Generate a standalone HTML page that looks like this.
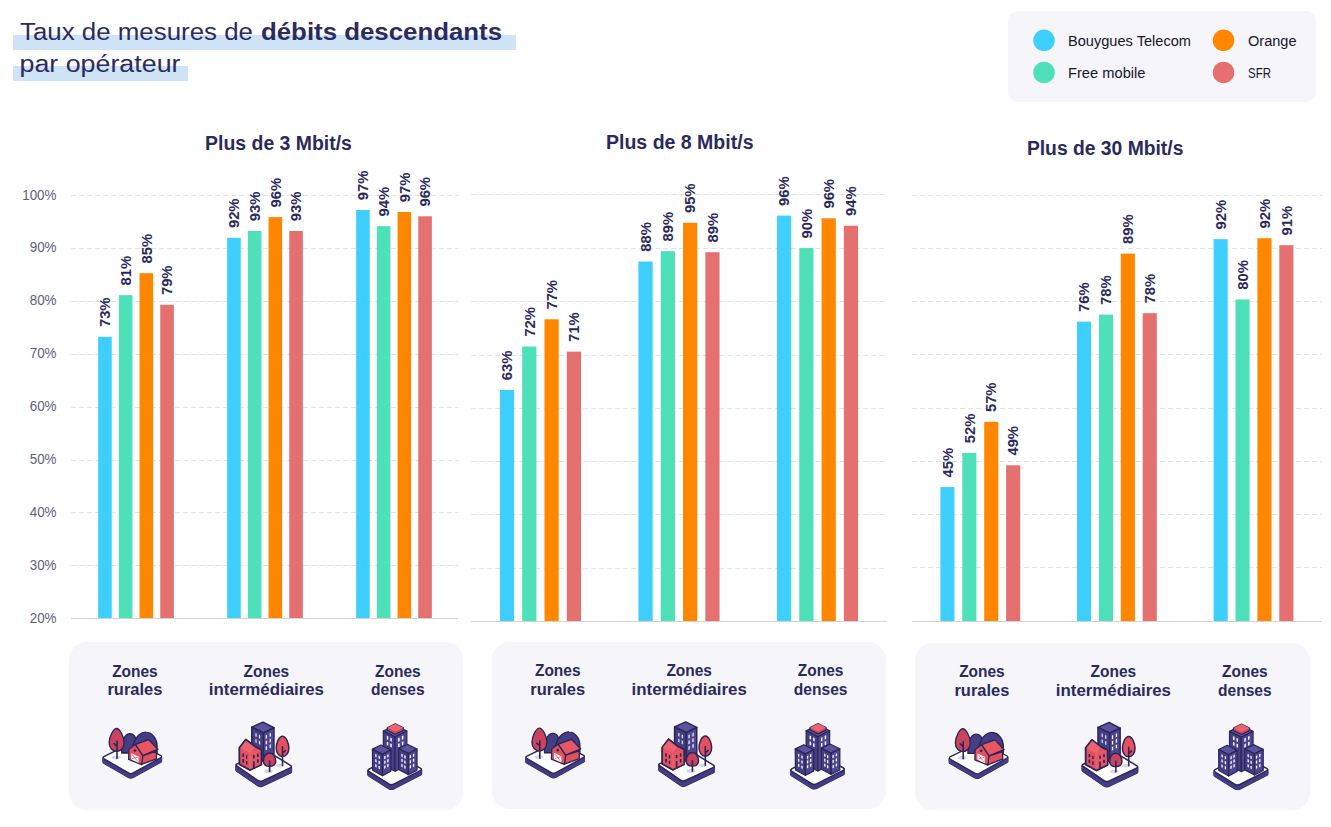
<!DOCTYPE html>
<html><head><meta charset="utf-8"><title>Taux de mesures de débits descendants par opérateur</title>
<style>
html,body{margin:0;padding:0;background:#fff;}
body{width:1331px;height:827px;overflow:hidden;position:relative;font-family:"Liberation Sans",sans-serif;}
.box{position:absolute;background:#f5f5fa;}
.band{position:absolute;background:#cfe3f6;}
svg.page{position:absolute;left:0;top:0;}
svg text{font-family:"Liberation Sans",sans-serif;}
.vl{font-size:14.8px;font-weight:bold;fill:#2a2a5c;}
.yl{font-size:15.5px;fill:#5e6079;}
.tt{font-size:24.7px;fill:#2b2b5e;}
.lg{font-size:14.7px;fill:#15152c;}
.zl{font-size:16.6px;font-weight:bold;fill:#2a2a5c;}
.ct{font-size:19.5px;font-weight:bold;fill:#2a2a5c;}
</style></head><body>
<div class="band" style="left:13px;top:35px;width:503px;height:15px"></div>
<div class="band" style="left:13px;top:66px;width:175px;height:15px"></div>
<div class="box" style="left:1008.4px;top:11px;width:307.8px;height:91px;border-radius:10px"></div>
<div class="box" style="left:69.2px;top:642.3px;width:394px;height:167.3px;border-radius:18px"></div>
<div class="box" style="left:492px;top:642px;width:394.1px;height:167.2px;border-radius:18px"></div>
<div class="box" style="left:915.4px;top:642.6px;width:394.5px;height:167.9px;border-radius:18px"></div>
<svg class="page" width="1331" height="827" viewBox="0 0 1331 827">
<line x1="71" y1="195.50" x2="458" y2="195.50" stroke="#e2e2e2" stroke-width="1" stroke-dasharray="5 3"/>
<line x1="71" y1="248.50" x2="458" y2="248.50" stroke="#e2e2e2" stroke-width="1" stroke-dasharray="5 3"/>
<line x1="71" y1="301.50" x2="458" y2="301.50" stroke="#e2e2e2" stroke-width="1" stroke-dasharray="5 3"/>
<line x1="71" y1="354.50" x2="458" y2="354.50" stroke="#e2e2e2" stroke-width="1" stroke-dasharray="5 3"/>
<line x1="71" y1="407.50" x2="458" y2="407.50" stroke="#e2e2e2" stroke-width="1" stroke-dasharray="5 3"/>
<line x1="71" y1="460.50" x2="458" y2="460.50" stroke="#e2e2e2" stroke-width="1" stroke-dasharray="5 3"/>
<line x1="71" y1="512.50" x2="458" y2="512.50" stroke="#e2e2e2" stroke-width="1" stroke-dasharray="5 3"/>
<line x1="71" y1="565.50" x2="458" y2="565.50" stroke="#e2e2e2" stroke-width="1" stroke-dasharray="5 3"/>
<rect x="98.15" y="336.80" width="13.6" height="281.60" fill="#3ecfff"/>
<text transform="translate(110.15,327.10) rotate(-90)" class="vl">73%</text>
<rect x="118.85" y="295.20" width="13.6" height="323.20" fill="#4de0b9"/>
<text transform="translate(130.85,285.50) rotate(-90)" class="vl">81%</text>
<rect x="139.55" y="273.20" width="13.6" height="345.20" fill="#ff8700"/>
<text transform="translate(151.55,263.50) rotate(-90)" class="vl">85%</text>
<rect x="160.25" y="304.80" width="13.6" height="313.60" fill="#e57070"/>
<text transform="translate(172.25,295.10) rotate(-90)" class="vl">79%</text>
<rect x="227.15" y="237.80" width="13.6" height="380.60" fill="#3ecfff"/>
<text transform="translate(239.15,228.10) rotate(-90)" class="vl">92%</text>
<rect x="247.85" y="231.00" width="13.6" height="387.40" fill="#4de0b9"/>
<text transform="translate(259.85,221.30) rotate(-90)" class="vl">93%</text>
<rect x="268.55" y="217.10" width="13.6" height="401.30" fill="#ff8700"/>
<text transform="translate(280.55,207.40) rotate(-90)" class="vl">96%</text>
<rect x="289.25" y="231.00" width="13.6" height="387.40" fill="#e57070"/>
<text transform="translate(301.25,221.30) rotate(-90)" class="vl">93%</text>
<rect x="356.15" y="210.00" width="13.6" height="408.40" fill="#3ecfff"/>
<text transform="translate(368.15,200.30) rotate(-90)" class="vl">97%</text>
<rect x="376.85" y="226.20" width="13.6" height="392.20" fill="#4de0b9"/>
<text transform="translate(388.85,216.50) rotate(-90)" class="vl">94%</text>
<rect x="397.55" y="212.00" width="13.6" height="406.40" fill="#ff8700"/>
<text transform="translate(409.55,202.30) rotate(-90)" class="vl">97%</text>
<rect x="418.25" y="216.30" width="13.6" height="402.10" fill="#e57070"/>
<text transform="translate(430.25,206.60) rotate(-90)" class="vl">96%</text>
<line x1="71" y1="618.5" x2="458" y2="618.5" stroke="#d3d3d3" stroke-width="1"/>
<line x1="471.2" y1="194.50" x2="886.8" y2="194.50" stroke="#e2e2e2" stroke-width="1" stroke-dasharray="5 3"/>
<line x1="471.2" y1="248.50" x2="886.8" y2="248.50" stroke="#e2e2e2" stroke-width="1" stroke-dasharray="5 3"/>
<line x1="471.2" y1="301.50" x2="886.8" y2="301.50" stroke="#e2e2e2" stroke-width="1" stroke-dasharray="5 3"/>
<line x1="471.2" y1="355.50" x2="886.8" y2="355.50" stroke="#e2e2e2" stroke-width="1" stroke-dasharray="5 3"/>
<line x1="471.2" y1="408.50" x2="886.8" y2="408.50" stroke="#e2e2e2" stroke-width="1" stroke-dasharray="5 3"/>
<line x1="471.2" y1="461.50" x2="886.8" y2="461.50" stroke="#e2e2e2" stroke-width="1" stroke-dasharray="5 3"/>
<line x1="471.2" y1="514.50" x2="886.8" y2="514.50" stroke="#e2e2e2" stroke-width="1" stroke-dasharray="5 3"/>
<line x1="471.2" y1="568.50" x2="886.8" y2="568.50" stroke="#e2e2e2" stroke-width="1" stroke-dasharray="5 3"/>
<rect x="499.92" y="390.00" width="14.2" height="231.50" fill="#3ecfff"/>
<text transform="translate(512.22,380.30) rotate(-90)" class="vl">63%</text>
<rect x="522.22" y="346.50" width="14.2" height="275.00" fill="#4de0b9"/>
<text transform="translate(534.52,336.80) rotate(-90)" class="vl">72%</text>
<rect x="544.52" y="319.30" width="14.2" height="302.20" fill="#ff8700"/>
<text transform="translate(556.82,309.60) rotate(-90)" class="vl">77%</text>
<rect x="566.82" y="351.60" width="14.2" height="269.90" fill="#e57070"/>
<text transform="translate(579.12,341.90) rotate(-90)" class="vl">71%</text>
<rect x="638.45" y="261.50" width="14.2" height="360.00" fill="#3ecfff"/>
<text transform="translate(650.75,251.80) rotate(-90)" class="vl">88%</text>
<rect x="660.75" y="251.20" width="14.2" height="370.30" fill="#4de0b9"/>
<text transform="translate(673.05,241.50) rotate(-90)" class="vl">89%</text>
<rect x="683.05" y="222.80" width="14.2" height="398.70" fill="#ff8700"/>
<text transform="translate(695.35,213.10) rotate(-90)" class="vl">95%</text>
<rect x="705.35" y="252.20" width="14.2" height="369.30" fill="#e57070"/>
<text transform="translate(717.65,242.50) rotate(-90)" class="vl">89%</text>
<rect x="776.98" y="215.60" width="14.2" height="405.90" fill="#3ecfff"/>
<text transform="translate(789.28,205.90) rotate(-90)" class="vl">96%</text>
<rect x="799.28" y="248.10" width="14.2" height="373.40" fill="#4de0b9"/>
<text transform="translate(811.58,238.40) rotate(-90)" class="vl">90%</text>
<rect x="821.58" y="218.30" width="14.2" height="403.20" fill="#ff8700"/>
<text transform="translate(833.88,208.60) rotate(-90)" class="vl">96%</text>
<rect x="843.88" y="225.70" width="14.2" height="395.80" fill="#e57070"/>
<text transform="translate(856.18,216.00) rotate(-90)" class="vl">94%</text>
<line x1="471.2" y1="621.5" x2="886.8" y2="621.5" stroke="#d3d3d3" stroke-width="1"/>
<line x1="912" y1="195.50" x2="1321.8" y2="195.50" stroke="#e2e2e2" stroke-width="1" stroke-dasharray="5 3"/>
<line x1="912" y1="248.50" x2="1321.8" y2="248.50" stroke="#e2e2e2" stroke-width="1" stroke-dasharray="5 3"/>
<line x1="912" y1="301.50" x2="1321.8" y2="301.50" stroke="#e2e2e2" stroke-width="1" stroke-dasharray="5 3"/>
<line x1="912" y1="354.50" x2="1321.8" y2="354.50" stroke="#e2e2e2" stroke-width="1" stroke-dasharray="5 3"/>
<line x1="912" y1="408.50" x2="1321.8" y2="408.50" stroke="#e2e2e2" stroke-width="1" stroke-dasharray="5 3"/>
<line x1="912" y1="461.50" x2="1321.8" y2="461.50" stroke="#e2e2e2" stroke-width="1" stroke-dasharray="5 3"/>
<line x1="912" y1="514.50" x2="1321.8" y2="514.50" stroke="#e2e2e2" stroke-width="1" stroke-dasharray="5 3"/>
<line x1="912" y1="567.50" x2="1321.8" y2="567.50" stroke="#e2e2e2" stroke-width="1" stroke-dasharray="5 3"/>
<rect x="940.40" y="487.10" width="14.1" height="134.40" fill="#3ecfff"/>
<text transform="translate(952.65,477.40) rotate(-90)" class="vl">45%</text>
<rect x="962.30" y="452.90" width="14.1" height="168.60" fill="#4de0b9"/>
<text transform="translate(974.55,443.20) rotate(-90)" class="vl">52%</text>
<rect x="984.20" y="421.80" width="14.1" height="199.70" fill="#ff8700"/>
<text transform="translate(996.45,412.10) rotate(-90)" class="vl">57%</text>
<rect x="1006.10" y="465.30" width="14.1" height="156.20" fill="#e57070"/>
<text transform="translate(1018.35,455.60) rotate(-90)" class="vl">49%</text>
<rect x="1077.00" y="321.60" width="14.1" height="299.90" fill="#3ecfff"/>
<text transform="translate(1089.25,311.90) rotate(-90)" class="vl">76%</text>
<rect x="1098.90" y="314.60" width="14.1" height="306.90" fill="#4de0b9"/>
<text transform="translate(1111.15,304.90) rotate(-90)" class="vl">78%</text>
<rect x="1120.80" y="253.60" width="14.1" height="367.90" fill="#ff8700"/>
<text transform="translate(1133.05,243.90) rotate(-90)" class="vl">89%</text>
<rect x="1142.70" y="313.20" width="14.1" height="308.30" fill="#e57070"/>
<text transform="translate(1154.95,303.50) rotate(-90)" class="vl">78%</text>
<rect x="1213.60" y="239.20" width="14.1" height="382.30" fill="#3ecfff"/>
<text transform="translate(1225.85,229.50) rotate(-90)" class="vl">92%</text>
<rect x="1235.50" y="299.50" width="14.1" height="322.00" fill="#4de0b9"/>
<text transform="translate(1247.75,289.80) rotate(-90)" class="vl">80%</text>
<rect x="1257.40" y="238.20" width="14.1" height="383.30" fill="#ff8700"/>
<text transform="translate(1269.65,228.50) rotate(-90)" class="vl">92%</text>
<rect x="1279.30" y="245.20" width="14.1" height="376.30" fill="#e57070"/>
<text transform="translate(1291.55,235.50) rotate(-90)" class="vl">91%</text>
<line x1="912" y1="621.5" x2="1321.8" y2="621.5" stroke="#d3d3d3" stroke-width="1"/>
<text x="22.20" y="199.50" class="yl" textLength="34.300000000000004" lengthAdjust="spacingAndGlyphs">100%</text>
<text x="29.70" y="252.39" class="yl" textLength="26.8" lengthAdjust="spacingAndGlyphs">90%</text>
<text x="29.70" y="305.27" class="yl" textLength="26.8" lengthAdjust="spacingAndGlyphs">80%</text>
<text x="29.70" y="358.16" class="yl" textLength="26.8" lengthAdjust="spacingAndGlyphs">70%</text>
<text x="29.70" y="411.05" class="yl" textLength="26.8" lengthAdjust="spacingAndGlyphs">60%</text>
<text x="29.70" y="463.94" class="yl" textLength="26.8" lengthAdjust="spacingAndGlyphs">50%</text>
<text x="29.70" y="516.82" class="yl" textLength="26.8" lengthAdjust="spacingAndGlyphs">40%</text>
<text x="29.70" y="569.71" class="yl" textLength="26.8" lengthAdjust="spacingAndGlyphs">30%</text>
<text x="29.70" y="622.60" class="yl" textLength="26.8" lengthAdjust="spacingAndGlyphs">20%</text>
<text x="205.1" y="150.3" class="ct" textLength="146.8" lengthAdjust="spacingAndGlyphs">Plus de 3 Mbit/s</text>
<text x="606.0" y="149.4" class="ct" textLength="147.5" lengthAdjust="spacingAndGlyphs">Plus de 8 Mbit/s</text>
<text x="1026.9" y="155" class="ct" textLength="156.5" lengthAdjust="spacingAndGlyphs">Plus de 30 Mbit/s</text>
<text x="20" y="40.2" class="tt" textLength="233" lengthAdjust="spacingAndGlyphs">Taux de mesures de</text>
<text x="261" y="40.2" class="tt" font-weight="bold" textLength="241" lengthAdjust="spacingAndGlyphs">débits descendants</text>
<text x="19.5" y="71.6" class="tt" textLength="161" lengthAdjust="spacingAndGlyphs">par opérateur</text>
<circle cx="1044" cy="40.3" r="10.75" fill="#3ecfff"/>
<circle cx="1044" cy="72.4" r="10.75" fill="#4de0b9"/>
<circle cx="1223.5" cy="40.3" r="10.75" fill="#ff8700"/>
<circle cx="1223.5" cy="72.4" r="10.75" fill="#e57070"/>
<text x="1068" y="46.2" class="lg" textLength="123" lengthAdjust="spacingAndGlyphs">Bouygues Telecom</text>
<text x="1068" y="77.9" class="lg" textLength="77.5" lengthAdjust="spacingAndGlyphs">Free mobile</text>
<text x="1248" y="46.2" class="lg" textLength="48.5" lengthAdjust="spacingAndGlyphs">Orange</text>
<text x="1248" y="77.9" class="lg" textLength="23" lengthAdjust="spacingAndGlyphs">SFR</text>
<text x="112.13" y="676.70" class="zl" textLength="45.6" lengthAdjust="spacingAndGlyphs">Zones</text>
<text x="107.48" y="694.90" class="zl" textLength="54.9" lengthAdjust="spacingAndGlyphs">rurales</text>
<text x="243.60" y="676.70" class="zl" textLength="45.6" lengthAdjust="spacingAndGlyphs">Zones</text>
<text x="208.80" y="694.90" class="zl" textLength="115.2" lengthAdjust="spacingAndGlyphs">intermédiaires</text>
<text x="375.07" y="676.70" class="zl" textLength="45.6" lengthAdjust="spacingAndGlyphs">Zones</text>
<text x="371.07" y="694.90" class="zl" textLength="53.6" lengthAdjust="spacingAndGlyphs">denses</text>
<text x="534.93" y="675.50" class="zl" textLength="45.6" lengthAdjust="spacingAndGlyphs">Zones</text>
<text x="530.28" y="694.60" class="zl" textLength="54.9" lengthAdjust="spacingAndGlyphs">rurales</text>
<text x="666.40" y="675.50" class="zl" textLength="45.6" lengthAdjust="spacingAndGlyphs">Zones</text>
<text x="631.60" y="694.60" class="zl" textLength="115.2" lengthAdjust="spacingAndGlyphs">intermédiaires</text>
<text x="797.87" y="675.50" class="zl" textLength="45.6" lengthAdjust="spacingAndGlyphs">Zones</text>
<text x="793.87" y="694.60" class="zl" textLength="53.6" lengthAdjust="spacingAndGlyphs">denses</text>
<text x="959.13" y="677.00" class="zl" textLength="45.6" lengthAdjust="spacingAndGlyphs">Zones</text>
<text x="954.48" y="696.10" class="zl" textLength="54.9" lengthAdjust="spacingAndGlyphs">rurales</text>
<text x="1090.60" y="677.00" class="zl" textLength="45.6" lengthAdjust="spacingAndGlyphs">Zones</text>
<text x="1055.80" y="696.10" class="zl" textLength="115.2" lengthAdjust="spacingAndGlyphs">intermédiaires</text>
<text x="1222.07" y="677.00" class="zl" textLength="45.6" lengthAdjust="spacingAndGlyphs">Zones</text>
<text x="1218.07" y="696.10" class="zl" textLength="53.6" lengthAdjust="spacingAndGlyphs">denses</text>
<defs><g id="icR"><path d="M117.4,553.0 L425.6,731.0 Q455.0,748.0 484.8,731.6 L832.2,540.4 Q862.0,524.0 831.6,508.8 L520.4,353.2 Q490.0,338.0 459.5,353.0 L118.5,521.0 Q88.0,536.0 117.4,553.0 Z" fill="#443e84" stroke="#2b2657" stroke-width="17"/><path d="M117.4,545.8 L425.6,723.7 Q455.0,740.8 484.8,724.4 L832.2,533.1 Q862.0,516.8 831.6,501.5 L520.4,346.0 Q490.0,330.8 459.5,345.8 L118.5,513.7 Q88.0,528.8 117.4,545.8 Z" fill="#443e84" stroke="#443e84" stroke-width="17"/><path d="M117.4,538.5 L425.6,716.5 Q455.0,733.5 484.8,717.1 L832.2,525.9 Q862.0,509.5 831.6,494.3 L520.4,338.7 Q490.0,323.5 459.5,338.5 L118.5,506.5 Q88.0,521.5 117.4,538.5 Z" fill="#443e84" stroke="#443e84" stroke-width="17"/><path d="M117.4,531.3 L425.6,709.2 Q455.0,726.2 484.8,709.9 L832.2,518.6 Q862.0,502.2 831.6,487.0 L520.4,331.5 Q490.0,316.2 459.5,331.3 L118.5,499.2 Q88.0,514.2 117.4,531.3 Z" fill="#443e84" stroke="#443e84" stroke-width="17"/><path d="M117.4,524.0 L425.6,702.0 Q455.0,719.0 484.8,702.6 L832.2,511.4 Q862.0,495.0 831.6,479.8 L520.4,324.2 Q490.0,309.0 459.5,324.0 L118.5,492.0 Q88.0,507.0 117.4,524.0 Z" fill="#443e84" stroke="#443e84" stroke-width="17"/><path d="M117.4,516.8 L425.6,694.7 Q455.0,711.8 484.8,695.4 L832.2,504.1 Q862.0,487.8 831.6,472.5 L520.4,317.0 Q490.0,301.8 459.5,316.8 L118.5,484.7 Q88.0,499.8 117.4,516.8 Z" fill="#443e84" stroke="#443e84" stroke-width="17"/><path d="M117.4,509.5 L425.6,687.5 Q455.0,704.5 484.8,688.1 L832.2,496.9 Q862.0,480.5 831.6,465.3 L520.4,309.7 Q490.0,294.5 459.5,309.5 L118.5,477.5 Q88.0,492.5 117.4,509.5 Z" fill="#443e84" stroke="#443e84" stroke-width="17"/><path d="M117.4,502.3 L425.6,680.2 Q455.0,697.2 484.8,680.9 L832.2,489.6 Q862.0,473.2 831.6,458.0 L520.4,302.5 Q490.0,287.2 459.5,302.3 L118.5,470.2 Q88.0,485.2 117.4,502.3 Z" fill="#443e84" stroke="#443e84" stroke-width="17"/><path d="M117.4,495.0 L425.6,673.0 Q455.0,690.0 484.8,673.6 L832.2,482.4 Q862.0,466.0 831.6,450.8 L520.4,295.2 Q490.0,280.0 459.5,295.0 L118.5,463.0 Q88.0,478.0 117.4,495.0 Z" fill="#ffffff" stroke="#2b2657" stroke-width="17"/><ellipse cx="270" cy="475" rx="58" ry="24" fill="#d5d6ec"/><path d="M340,420 C330,300 370,180 440,175 C500,172 530,230 530,300 L530,420 Z" fill="#443e84" stroke="#2b2657" stroke-width="17"/><path d="M480,330 C520,190 600,150 650,155 C730,160 790,240 790,330 L790,420 L480,420 Z" fill="#443e84" stroke="#2b2657" stroke-width="17"/><path d="M275,108 C240,108 180,200 180,290 C180,355 225,398 275,398 C325,398 370,355 370,290 C370,200 310,108 275,108 Z" fill="#c9445c" stroke="#2b2657" stroke-width="17"/><path d="M280,270 L280,490 M280,335 L242,300" stroke="#2b2657" stroke-width="20" stroke-linecap="round" fill="none"/><path d="M605,452 L782,397 L782,495 L591,566 Z" fill="#e3505e" stroke="#2b2657" stroke-width="17" stroke-linejoin="round"/><path d="M431,372 L514,311 L609,452 L594,569 L428,502 Z" fill="#e5515f" stroke="#2b2657" stroke-width="17" stroke-linejoin="round"/><path d="M514,311 L683,249 L800,372 L609,452 Z" fill="#e85662" stroke="#2b2657" stroke-width="17" stroke-linejoin="round"/><path d="M462,422 L554,465 L554,545 L462,502 Z" fill="#ffffff"/><path d="M472,438 L544,528 M544,472 L472,492" stroke="#e5515f" stroke-width="10"/><circle cx="508" cy="388" r="17" fill="#2b2657"/></g><g id="icI"><path d="M81.3,613.2 L318.7,776.8 Q345.0,795.0 374.0,781.5 L691.0,633.5 Q720.0,620.0 692.7,603.2 L487.3,476.8 Q460.0,460.0 429.6,470.1 L85.4,584.9 Q55.0,595.0 81.3,613.2 Z" fill="#443e84" stroke="#2b2657" stroke-width="17"/><path d="M81.3,605.7 L318.7,769.3 Q345.0,787.5 374.0,774.0 L691.0,626.0 Q720.0,612.5 692.7,595.7 L487.3,469.3 Q460.0,452.5 429.6,462.6 L85.4,577.4 Q55.0,587.5 81.3,605.7 Z" fill="#443e84" stroke="#443e84" stroke-width="17"/><path d="M81.3,598.2 L318.7,761.8 Q345.0,780.0 374.0,766.5 L691.0,618.5 Q720.0,605.0 692.7,588.2 L487.3,461.8 Q460.0,445.0 429.6,455.1 L85.4,569.9 Q55.0,580.0 81.3,598.2 Z" fill="#443e84" stroke="#443e84" stroke-width="17"/><path d="M81.3,590.7 L318.7,754.3 Q345.0,772.5 374.0,759.0 L691.0,611.0 Q720.0,597.5 692.7,580.7 L487.3,454.3 Q460.0,437.5 429.6,447.6 L85.4,562.4 Q55.0,572.5 81.3,590.7 Z" fill="#443e84" stroke="#443e84" stroke-width="17"/><path d="M81.3,583.2 L318.7,746.8 Q345.0,765.0 374.0,751.5 L691.0,603.5 Q720.0,590.0 692.7,573.2 L487.3,446.8 Q460.0,430.0 429.6,440.1 L85.4,554.9 Q55.0,565.0 81.3,583.2 Z" fill="#443e84" stroke="#443e84" stroke-width="17"/><path d="M81.3,575.7 L318.7,739.3 Q345.0,757.5 374.0,744.0 L691.0,596.0 Q720.0,582.5 692.7,565.7 L487.3,439.3 Q460.0,422.5 429.6,432.6 L85.4,547.4 Q55.0,557.5 81.3,575.7 Z" fill="#443e84" stroke="#443e84" stroke-width="17"/><path d="M81.3,568.2 L318.7,731.8 Q345.0,750.0 374.0,736.5 L691.0,588.5 Q720.0,575.0 692.7,558.2 L487.3,431.8 Q460.0,415.0 429.6,425.1 L85.4,539.9 Q55.0,550.0 81.3,568.2 Z" fill="#443e84" stroke="#443e84" stroke-width="17"/><path d="M81.3,560.7 L318.7,724.3 Q345.0,742.5 374.0,729.0 L691.0,581.0 Q720.0,567.5 692.7,550.7 L487.3,424.3 Q460.0,407.5 429.6,417.6 L85.4,532.4 Q55.0,542.5 81.3,560.7 Z" fill="#443e84" stroke="#443e84" stroke-width="17"/><path d="M81.3,553.2 L318.7,716.8 Q345.0,735.0 374.0,721.5 L691.0,573.5 Q720.0,560.0 692.7,543.2 L487.3,416.8 Q460.0,400.0 429.6,410.1 L85.4,524.9 Q55.0,535.0 81.3,553.2 Z" fill="#ffffff" stroke="#2b2657" stroke-width="17"/><ellipse cx="440" cy="612" rx="50" ry="22" fill="#d5d6ec"/><ellipse cx="575" cy="545" rx="45" ry="20" fill="#d5d6ec"/><path d="M250,105 L378,48 L505,112 L385,172 Z" fill="#5a54a0" stroke="#2b2657" stroke-width="17" stroke-linejoin="round"/><path d="M250,105 L385,172 L385,500 L250,430 Z" fill="#443e84" stroke="#2b2657" stroke-width="17" stroke-linejoin="round"/><path d="M385,172 L505,112 L505,420 L385,490 Z" fill="#4d4792" stroke="#2b2657" stroke-width="17" stroke-linejoin="round"/><path d="M292,172 l14,7 l0,40 l-14,-7 Z" fill="#e8e8f5"/><path d="M332,192 l14,7 l0,40 l-14,-7 Z" fill="#e8e8f5"/><path d="M292,240 l14,7 l0,40 l-14,-7 Z" fill="#e8e8f5"/><path d="M332,260 l14,7 l0,40 l-14,-7 Z" fill="#e8e8f5"/><path d="M410,200 l14,-7 l0,40 l-14,7 Z" fill="#ffffff"/><path d="M455,178 l14,-7 l0,40 l-14,7 Z" fill="#ffffff"/><path d="M410,265 l14,-7 l0,40 l-14,7 Z" fill="#ffffff"/><path d="M455,243 l14,-7 l0,40 l-14,7 Z" fill="#ffffff"/><path d="M410,330 l14,-7 l0,40 l-14,7 Z" fill="#ffffff"/><path d="M455,308 l14,-7 l0,40 l-14,7 Z" fill="#ffffff"/><path d="M107.8,341.3 L180.8,246.4 L283.1,326.7 L358.5,363.2 L361,536 L229.5,599.3 L107.8,531.1 Z" fill="#e5515f" stroke="#2b2657" stroke-width="17" stroke-linejoin="round"/><path d="M229.5,399.7 L358.5,363.2 L361,536 L229.5,599.3 Z" fill="#e65765"/><path d="M107.8,341.3 L180.8,246.4 L283.1,326.7 L229.5,399.7 Z" fill="#ec6470"/><path d="M283.1,326.7 L229.5,399.7 L229.5,599.3" stroke="#f0707a" stroke-width="7" fill="none"/><path d="M107.8,341.3 L180.8,246.4 L283.1,326.7 L358.5,363.2 L361,536 L229.5,599.3 L107.8,531.1 Z" fill="none" stroke="#2b2657" stroke-width="17" stroke-linejoin="round"/><rect x="142" y="409" width="19" height="39" rx="4" fill="#2b2657"/><rect x="183" y="429" width="17" height="39" rx="4" fill="#2b2657"/><rect x="142" y="472" width="19" height="42" rx="4" fill="#2b2657"/><rect x="183" y="494" width="17" height="42" rx="4" fill="#2b2657"/><rect x="264" y="426" width="19" height="39" rx="4" fill="#2b2657"/><rect x="310" y="409" width="19" height="39" rx="4" fill="#2b2657"/><rect x="310" y="475" width="19" height="39" rx="4" fill="#2b2657"/><rect x="264" y="497" width="19" height="85" rx="4" fill="#2b2657"/><path d="M454,401 C412,401 384,442 384,492 C384,532 412,556 454,556 C496,556 525,532 525,492 C525,442 496,401 454,401 Z" fill="#c9445c" stroke="#2b2657" stroke-width="17"/><path d="M455,495 L455,615" stroke="#2b2657" stroke-width="18" stroke-linecap="round"/><path d="M603,209 C562,209 531,290 531,345 C531,402 562,442 603,442 C644,442 676,402 676,345 C676,290 644,209 603,209 Z" fill="#e5515f" stroke="#2b2657" stroke-width="17"/><path d="M603,332 L603,545 M603,405 L636,375" stroke="#2b2657" stroke-width="18" stroke-linecap="round" fill="none"/></g><g id="icD"><path d="M82.1,669.0 L307.9,810.0 Q335.0,827.0 363.5,812.5 L669.5,656.5 Q698.0,642.0 669.8,626.9 L428.2,497.1 Q400.0,482.0 371.3,496.1 L83.7,637.9 Q55.0,652.0 82.1,669.0 Z" fill="#443e84" stroke="#2b2657" stroke-width="17"/><path d="M82.1,662.5 L307.9,803.5 Q335.0,820.5 363.5,806.0 L669.5,650.0 Q698.0,635.5 669.8,620.4 L428.2,490.6 Q400.0,475.5 371.3,489.6 L83.7,631.4 Q55.0,645.5 82.1,662.5 Z" fill="#443e84" stroke="#443e84" stroke-width="17"/><path d="M82.1,656.0 L307.9,797.0 Q335.0,814.0 363.5,799.5 L669.5,643.5 Q698.0,629.0 669.8,613.9 L428.2,484.1 Q400.0,469.0 371.3,483.1 L83.7,624.9 Q55.0,639.0 82.1,656.0 Z" fill="#443e84" stroke="#443e84" stroke-width="17"/><path d="M82.1,649.5 L307.9,790.5 Q335.0,807.5 363.5,793.0 L669.5,637.0 Q698.0,622.5 669.8,607.4 L428.2,477.6 Q400.0,462.5 371.3,476.6 L83.7,618.4 Q55.0,632.5 82.1,649.5 Z" fill="#443e84" stroke="#443e84" stroke-width="17"/><path d="M82.1,643.0 L307.9,784.0 Q335.0,801.0 363.5,786.5 L669.5,630.5 Q698.0,616.0 669.8,600.9 L428.2,471.1 Q400.0,456.0 371.3,470.1 L83.7,611.9 Q55.0,626.0 82.1,643.0 Z" fill="#443e84" stroke="#443e84" stroke-width="17"/><path d="M82.1,636.5 L307.9,777.5 Q335.0,794.5 363.5,780.0 L669.5,624.0 Q698.0,609.5 669.8,594.4 L428.2,464.6 Q400.0,449.5 371.3,463.6 L83.7,605.4 Q55.0,619.5 82.1,636.5 Z" fill="#443e84" stroke="#443e84" stroke-width="17"/><path d="M82.1,630.0 L307.9,771.0 Q335.0,788.0 363.5,773.5 L669.5,617.5 Q698.0,603.0 669.8,587.9 L428.2,458.1 Q400.0,443.0 371.3,457.1 L83.7,598.9 Q55.0,613.0 82.1,630.0 Z" fill="#443e84" stroke="#443e84" stroke-width="17"/><path d="M82.1,623.5 L307.9,764.5 Q335.0,781.5 363.5,767.0 L669.5,611.0 Q698.0,596.5 669.8,581.4 L428.2,451.6 Q400.0,436.5 371.3,450.6 L83.7,592.4 Q55.0,606.5 82.1,623.5 Z" fill="#443e84" stroke="#443e84" stroke-width="17"/><path d="M82.1,617.0 L307.9,758.0 Q335.0,775.0 363.5,760.5 L669.5,604.5 Q698.0,590.0 669.8,574.9 L428.2,445.1 Q400.0,430.0 371.3,444.1 L83.7,585.9 Q55.0,600.0 82.1,617.0 Z" fill="#ffffff" stroke="#2b2657" stroke-width="17"/><path d="M245,150 L380,82 L515,150 L380,218 Z" fill="#5a54a0" stroke="#2b2657" stroke-width="14" stroke-linejoin="round"/><path d="M245,150 L380,218 L380,612 L245,545 Z" fill="#443e84" stroke="#2b2657" stroke-width="14" stroke-linejoin="round"/><path d="M380,218 L515,150 L515,545 L380,612 Z" fill="#4d4792" stroke="#2b2657" stroke-width="14" stroke-linejoin="round"/><path d="M290,112 L382,66 L475,112 L475,140 L383,186 L290,140 Z" fill="#d9475a" stroke="#2b2657" stroke-width="14" stroke-linejoin="round"/><path d="M292,112 L382,66 L473,112 L383,158 Z" fill="#ec6470"/><path d="M285,205 l17,8 l0,40 l-17,-8 Z" fill="#ffffff"/><path d="M325,225 l17,8 l0,40 l-17,-8 Z" fill="#ffffff"/><path d="M285,270 l17,8 l0,40 l-17,-8 Z" fill="#ffffff"/><path d="M325,290 l17,8 l0,40 l-17,-8 Z" fill="#ffffff"/><path d="M415,232 l17,-8 l0,40 l-17,8 Z" fill="#ffffff"/><path d="M458,210 l17,-8 l0,40 l-17,8 Z" fill="#ffffff"/><path d="M415,297 l17,-8 l0,40 l-17,8 Z" fill="#ffffff"/><path d="M458,275 l17,-8 l0,40 l-17,8 Z" fill="#ffffff"/><path d="M120,358 L218,310 L332,368 L235,418 Z" fill="#5a54a0" stroke="#2b2657" stroke-width="14" stroke-linejoin="round"/><path d="M120,358 L235,418 L235,662 L122,600 Z" fill="#443e84" stroke="#2b2657" stroke-width="14" stroke-linejoin="round"/><path d="M235,418 L332,368 L332,612 L235,662 Z" fill="#4d4792" stroke="#2b2657" stroke-width="14" stroke-linejoin="round"/><path d="M152,412 l15,7 l0,33 l-15,-7 Z" fill="#ffffff"/><path d="M190,432 l15,7 l0,33 l-15,-7 Z" fill="#ffffff"/><path d="M152,470 l15,7 l0,33 l-15,-7 Z" fill="#ffffff"/><path d="M190,490 l15,7 l0,33 l-15,-7 Z" fill="#ffffff"/><path d="M152,528 l15,7 l0,33 l-15,-7 Z" fill="#ffffff"/><path d="M190,548 l15,7 l0,33 l-15,-7 Z" fill="#ffffff"/><path d="M255,440 l15,-7 l0,33 l-15,7 Z" fill="#ffffff"/><path d="M290,422 l15,-7 l0,33 l-15,7 Z" fill="#ffffff"/><path d="M255,495 l15,-7 l0,33 l-15,7 Z" fill="#ffffff"/><path d="M290,477 l15,-7 l0,33 l-15,7 Z" fill="#ffffff"/><path d="M255,550 l15,-7 l0,33 l-15,7 Z" fill="#ffffff"/><path d="M290,532 l15,-7 l0,33 l-15,7 Z" fill="#ffffff"/><path d="M420,352 L520,302 L632,357 L532,407 Z" fill="#5a54a0" stroke="#2b2657" stroke-width="14" stroke-linejoin="round"/><path d="M420,352 L532,407 L532,652 L420,592 Z" fill="#443e84" stroke="#2b2657" stroke-width="14" stroke-linejoin="round"/><path d="M532,407 L632,357 L632,600 L532,652 Z" fill="#4d4792" stroke="#2b2657" stroke-width="14" stroke-linejoin="round"/><path d="M452,410 l15,7 l0,33 l-15,-7 Z" fill="#ffffff"/><path d="M485,428 l15,7 l0,33 l-15,-7 Z" fill="#ffffff"/><path d="M452,468 l15,7 l0,33 l-15,-7 Z" fill="#ffffff"/><path d="M485,486 l15,7 l0,33 l-15,-7 Z" fill="#ffffff"/><path d="M452,526 l15,7 l0,33 l-15,-7 Z" fill="#ffffff"/><path d="M485,544 l15,7 l0,33 l-15,-7 Z" fill="#ffffff"/><path d="M548,432 l15,-7 l0,33 l-15,7 Z" fill="#ffffff"/><path d="M585,414 l15,-7 l0,33 l-15,7 Z" fill="#ffffff"/><path d="M548,490 l15,-7 l0,33 l-15,7 Z" fill="#ffffff"/><path d="M585,472 l15,-7 l0,33 l-15,7 Z" fill="#ffffff"/><path d="M548,548 l15,-7 l0,33 l-15,7 Z" fill="#ffffff"/><path d="M585,530 l15,-7 l0,33 l-15,7 Z" fill="#ffffff"/></g></defs>
<svg x="95.0" y="720.0" width="75" height="65" viewBox="0 0 954 827"><use href="#icR"/></svg>
<svg x="230.0" y="718.0" width="70" height="72" viewBox="0 0 804 827"><use href="#icI"/></svg>
<svg x="362.0" y="718.0" width="70" height="72" viewBox="0 0 804 827"><use href="#icD"/></svg>
<svg x="517.8" y="719.7" width="75" height="65" viewBox="0 0 954 827"><use href="#icR"/></svg>
<svg x="652.8" y="717.7" width="70" height="72" viewBox="0 0 804 827"><use href="#icI"/></svg>
<svg x="784.8" y="717.7" width="70" height="72" viewBox="0 0 804 827"><use href="#icD"/></svg>
<svg x="941.2" y="720.3" width="75" height="65" viewBox="0 0 954 827"><use href="#icR"/></svg>
<svg x="1076.2" y="718.3" width="70" height="72" viewBox="0 0 804 827"><use href="#icI"/></svg>
<svg x="1208.2" y="718.3" width="70" height="72" viewBox="0 0 804 827"><use href="#icD"/></svg>
</svg>
</body></html>
